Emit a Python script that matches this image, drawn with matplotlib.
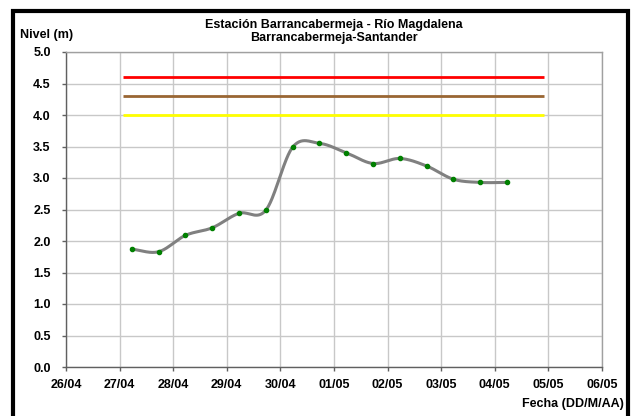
import numpy as np
import pandas as pd
import matplotlib
matplotlib.use("Agg")
import matplotlib.pyplot as plt
import matplotlib.dates as mdates
from matplotlib.patches import Rectangle

plt.rcParams['font.family'] = ['Liberation Sans', 'DejaVu Sans']
plt.rcParams['font.weight'] = 'bold'

# ---- data ----
fechas = ["2011-04-27 05:30", "2011-04-27 17:30", "2011-04-28 05:30", "2011-04-28 17:30",
          "2011-04-29 05:30", "2011-04-29 17:30", "2011-04-30 05:30", "2011-04-30 17:30",
          "2011-05-01 05:30", "2011-05-01 17:30", "2011-05-02 05:30", "2011-05-02 17:30",
          "2011-05-03 05:30", "2011-05-03 17:30", "2011-05-04 05:30"]
niveles = [1.87, 1.83, 2.09, 2.21, 2.44, 2.49, 3.49, 3.55, 3.40, 3.23,
           3.31, 3.19, 2.98, 2.93, 2.93]

umbral_inicio = "2011-04-27 01:30"
umbral_fin = "2011-05-04 22:00"
umbral_rojo = 4.6
umbral_naranja = 4.3
umbral_amarillo = 4.0

x_ticks = ["2011-04-26", "2011-04-27", "2011-04-28", "2011-04-29", "2011-04-30", "2011-05-01",
           "2011-05-02", "2011-05-03", "2011-05-04", "2011-05-05", "2011-05-06"]
y_ticks = [0.0, 0.5, 1.0, 1.5, 2.0, 2.5, 3.0, 3.5, 4.0, 4.5, 5.0]

titulo1 = "Estación Barrancabermeja - Río Magdalena"
titulo2 = "Barrancabermeja-Santander"
ylabel = "Nivel (m)"
xlabel = "Fecha (DD/M/AA)"

# ---- helpers ----
def catmull_rom(xs, ys, n=30):
    P = np.column_stack([xs, ys])
    P = np.vstack([P[0] - (P[1] - P[0]), P, P[-1] + (P[-1] - P[-2])])
    out = []
    for i in range(1, len(P) - 2):
        p0, p1, p2, p3 = P[i - 1], P[i], P[i + 1], P[i + 2]
        t = np.linspace(0, 1, n, endpoint=False)[:, None]
        c = 0.5 * ((2 * p1) + (-p0 + p2) * t + (2 * p0 - 5 * p1 + 4 * p2 - p3) * t ** 2
                   + (-p0 + 3 * p1 - 3 * p2 + p3) * t ** 3)
        out.append(c)
    out.append(P[-2][None, :])
    out = np.vstack(out)
    return out[:, 0], out[:, 1]

xd = mdates.date2num(pd.to_datetime(fechas))
yd = np.array(niveles)
xt = mdates.date2num(pd.to_datetime(x_ticks))
u0, u1 = mdates.date2num(pd.to_datetime([umbral_inicio, umbral_fin]))

fig = plt.figure(figsize=(6.35, 4.16), dpi=100)
ax = fig.add_axes([66 / 635, 1 - 367 / 416, (602 - 66) / 635, (367 - 52) / 416])

ax.set_xlim(xt[0], xt[-1])
ax.set_ylim(0, 5)
ax.set_xticks(xt)
ax.set_xticklabels([pd.to_datetime(t).strftime("%d/%m") for t in x_ticks])
ax.set_yticks(y_ticks)
ax.set_yticklabels([f"{v:.1f}" for v in y_ticks])

ax.grid(True, color='#c8c8c8', linewidth=1.0)
ax.set_axisbelow(True)
for s in ax.spines.values():
    s.set_color('#a0a0a0')
    s.set_linewidth(1.0)
ax.spines['left'].set_color('#606060')
ax.spines['bottom'].set_color('#606060')
ax.tick_params(axis='both', direction='out', length=3, width=1, color='#606060',
               labelsize=9)
ax.tick_params(axis='y', pad=8)
ax.tick_params(axis='x', pad=6)
for lab in ax.get_xticklabels() + ax.get_yticklabels():
    lab.set_fontweight('bold')

ax.plot([u0, u1], [umbral_rojo] * 2, color='#ff0000', lw=2, solid_capstyle='butt')
ax.plot([u0, u1], [umbral_naranja] * 2, color='#996633', lw=2, solid_capstyle='butt')
ax.plot([u0, u1], [umbral_amarillo] * 2, color='#ffff00', lw=2, solid_capstyle='butt')

sx, sy = catmull_rom(xd, yd)
ax.plot(sx, sy, color='#808080', lw=2.2, zorder=3)
ax.plot(xd, yd, 'o', color='#008000', ms=3, mec='#008000', zorder=4)

fig.text(334 / 635, 1 - 25 / 416, titulo1, ha='center', va='center', fontsize=9, fontweight='bold')
fig.text(334 / 635, 1 - 38 / 416, titulo2, ha='center', va='center', fontsize=9, fontweight='bold')
fig.text(20 / 635, 1 - 35 / 416, ylabel, ha='left', va='center', fontsize=9, fontweight='bold')
fig.text(624 / 635, 1 - 404.5 / 416, xlabel, ha='right', va='center', fontsize=9, fontweight='bold')

# outer frame (left, top, right visible)
fig.patches.append(Rectangle((13 / 635, -0.1), (628 - 13) / 635, 1.1 - 11 / 416,
                             transform=fig.transFigure, fill=False, edgecolor='black',
                             linewidth=3, figure=fig))

fig.savefig("out.png", dpi=100)
